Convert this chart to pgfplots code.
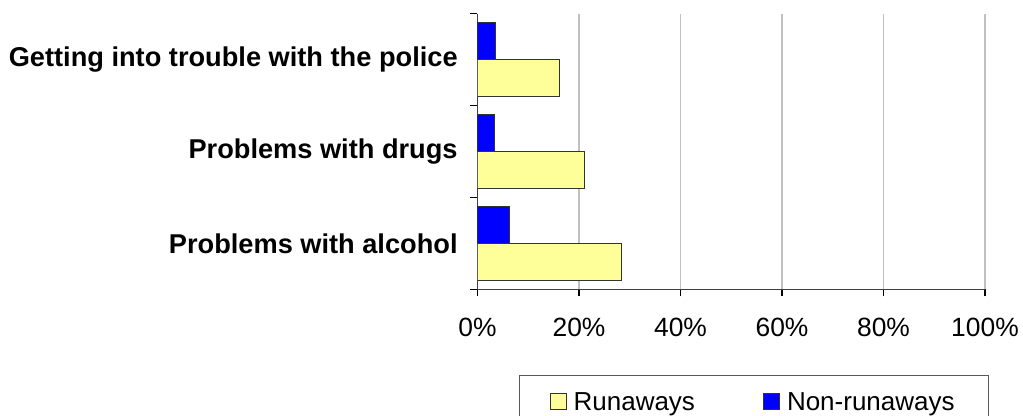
\documentclass[border=0pt]{standalone}
\usepackage{fontspec}
\setmainfont{Liberation Sans}
\usepackage{pgfplots}
\pgfplotsset{compat=1.18}
\definecolor{runaway}{RGB}{255,255,153}
\definecolor{nonrun}{RGB}{0,0,255}
\definecolor{gridgray}{RGB}{192,192,192}
\begin{document}
\fontsize{13}{15.6}\selectfont
\begin{tikzpicture}[font=\fontsize{13}{15.6}\selectfont]
\path[use as bounding box] (0,0) rectangle (511.5pt,208pt);
\begin{axis}[
  at={(238.75pt,63.35pt)}, anchor=south west,
  scale only axis, width=253.75pt, height=137.8pt,
  xbar, bar width=0.4,
  xmin=0, xmax=100, ymin=-0.5, ymax=2.5,
  axis lines*=left,
  axis line style={line width=0.6pt, black!75},
  tick align=outside, tick pos=left,
  major tick length=3.5pt,
  tick style={black, line width=0.6pt},
  xtick={0,20,40,60,80,100},
  xticklabels={0\%,20\%,40\%,60\%,80\%,100\%},
  xticklabel style={inner sep=0pt, yshift=-10.5pt, font=\fontsize{13.2}{16}\selectfont},
  xmajorgrids, grid style={gridgray, line width=0.6pt},
  ytick={-0.5,0.5,1.5,2.5},
  yticklabels={Problems with alcohol, Problems with drugs, Getting into trouble with the police, {}},
  yticklabel style={font=\fontsize{13.6}{16}\selectfont\bfseries, inner sep=0pt, xshift=-6.25pt, yshift=22.97pt},
  legend columns=2,
  legend style={at={(axis description cs:0.0818,-0.311)}, anchor=north west,
    draw=black!65, line width=0.6pt, inner xsep=15pt, inner ysep=6.5pt,
    font=\fontsize{13}{15.6}\selectfont,
    /tikz/every even column/.append style={column sep=32pt}},
  legend image code/.code={\draw[#1, line width=0.5pt] (0pt,-3pt) rectangle (8pt,5pt); \path (9.5pt,0pt);},
]
\addplot[fill=runaway, draw=black!80, line width=0.5pt, bar shift=-0.2] coordinates {(28.3,0) (21.1,1) (16.2,2)};
\addlegendentry{Runaways}
\addplot[fill=nonrun, draw=black!80, line width=0.5pt, bar shift=0.2] coordinates {(6.4,0) (3.4,1) (3.6,2)};
\addlegendentry{Non-runaways}
\end{axis}
\end{tikzpicture}
\end{document}
